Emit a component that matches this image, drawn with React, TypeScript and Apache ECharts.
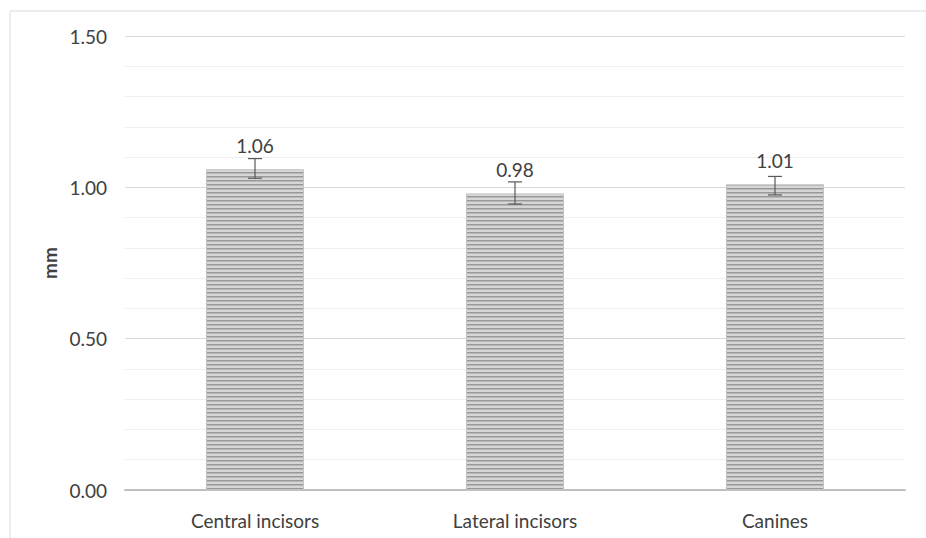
import React, { useEffect, useRef } from "react";
import * as echarts from "echarts";

const categories = ["Central incisors", "Lateral incisors", "Canines"];
const meanValues = [1.06, 0.98, 1.01];
const errorLow = [1.03, 0.945, 0.975];
const errorHigh = [1.095, 1.018, 1.036];
const yTicks = [0, 0.5, 1.0, 1.5];

function makeStripe(): string {
  const c = document.createElement("canvas");
  c.width = 4;
  c.height = 4;
  const ctx = c.getContext("2d")!;
  ctx.fillStyle = "#d6d6d6";
  ctx.fillRect(0, 0, 4, 4);
  ctx.fillStyle = "#989898";
  ctx.fillRect(0, 0, 4, 1);
  ctx.fillStyle = "#b8b8b8";
  ctx.fillRect(0, 1, 4, 1);
  return c.toDataURL();
}

export default function App() {
  const ref = useRef<HTMLDivElement>(null);
  useEffect(() => {
    document.body.style.margin = "0";
    const chart = echarts.init(ref.current!, undefined, { renderer: "svg" });
    const font = "Lato, 'Liberation Sans', sans-serif";
    const stripe = makeStripe();
    chart.setOption({
      animation: false,
      backgroundColor: "#ffffff",
      graphic: [
        {
          type: "rect",
          shape: { x: 10, y: 11, width: 930, height: 540 },
          style: { fill: "none", stroke: "#d9d9d9", lineWidth: 1 },
          silent: true,
          z: -1,
        },
      ],
      grid: { left: 125, right: 21, top: 36, bottom: 48 },
      xAxis: {
        type: "category",
        data: categories,
        axisTick: { show: false },
        axisLine: { lineStyle: { color: "#bfbfbf", width: 2 } },
        axisLabel: { color: "#404040", fontSize: 19, fontFamily: font, margin: 21 },
      },
      yAxis: {
        type: "value",
        min: yTicks[0],
        max: yTicks[yTicks.length - 1],
        interval: 0.5,
        name: "mm",
        nameLocation: "middle",
        nameGap: 66,
        nameTextStyle: { color: "#404040", fontSize: 19, fontWeight: "bold", fontFamily: font },
        axisLine: { show: false },
        axisTick: { show: false },
        axisLabel: {
          color: "#404040",
          fontSize: 19,
          fontFamily: font,
          margin: 18,
          formatter: (v: number) => v.toFixed(2),
        },
        splitLine: { lineStyle: { color: "#d9d9d9", width: 1 } },
        minorTick: { show: false, splitNumber: 5 },
        minorSplitLine: { show: true, lineStyle: { color: "#efefef", width: 1 } },
      },
      series: [
        {
          type: "bar",
          data: meanValues,
          barWidth: "37.7%",
          itemStyle: {
            color: { image: stripe, repeat: "repeat" },
            borderColor: "#c4c4c4",
            borderWidth: 1,
          },
          label: {
            show: true,
            position: "top",
            distance: 14,
            color: "#404040",
            fontSize: 19,
            fontFamily: font,
            formatter: (p: any) => p.value.toFixed(2),
          },
          z: 2,
        },
        {
          type: "custom",
          data: categories.map((_, i) => [i, errorLow[i], errorHigh[i]]),
          z: 5,
          renderItem: (params: any, api: any) => {
            const x = api.value(0);
            const lo = api.coord([x, api.value(1)]);
            const hi = api.coord([x, api.value(2)]);
            const half = 7;
            const style = { stroke: "#595959", lineWidth: 1.2 };
            return {
              type: "group",
              children: [
                { type: "line", shape: { x1: lo[0], y1: lo[1], x2: hi[0], y2: hi[1] }, style },
                { type: "line", shape: { x1: hi[0] - half, y1: hi[1], x2: hi[0] + half, y2: hi[1] }, style },
                { type: "line", shape: { x1: lo[0] - half, y1: lo[1], x2: lo[0] + half, y2: lo[1] }, style },
              ],
            };
          },
        },
      ],
    });
    return () => chart.dispose();
  }, []);
  return <div ref={ref} style={{ width: 926, height: 538 }} />;
}
